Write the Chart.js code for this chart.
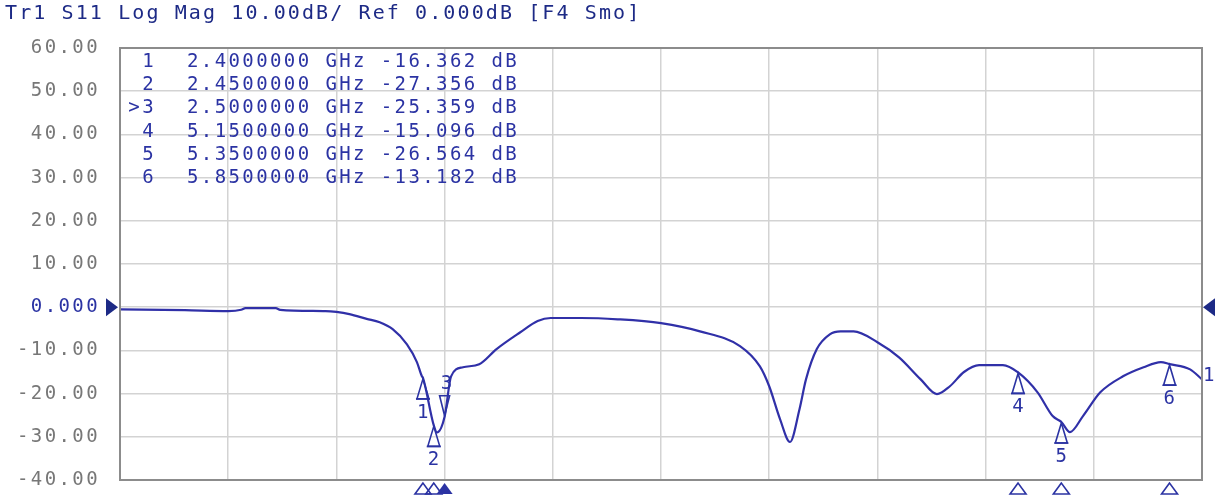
<!DOCTYPE html>
<html>
<head>
<meta charset="utf-8">
<title>Tr1 S11 Log Mag</title>
<script src="https://cdn.jsdelivr.net/npm/chart.js@4.4.1/dist/chart.umd.min.js"></script>
<style>
  html, body { margin: 0; padding: 0; background: #fff; }
  canvas { display: block; }
</style>
</head>
<body>
<canvas id="s11Chart" width="1215" height="498"></canvas>
<script>
// S11 trace, log magnitude (dB) against frequency (GHz)
const freqGHz = [1.00, 1.30, 1.50, 1.56, 1.58, 1.72, 1.74, 1.95, 2.00, 2.06, 2.14, 2.20, 2.26, 2.326, 2.372,
    2.395, 2.40, 2.45, 2.465, 2.50, 2.53, 2.585, 2.66, 2.74, 2.85, 2.93, 2.99, 3.13, 3.30, 3.50, 3.68,
    3.865, 3.957, 4.00, 4.05, 4.096, 4.14, 4.17, 4.22, 4.28, 4.33, 4.39, 4.50, 4.60, 4.70, 4.775, 4.835,
    4.90, 4.97, 5.08, 5.15, 5.24, 5.31, 5.35, 5.39, 5.45, 5.53, 5.635, 5.73, 5.81, 5.85, 5.945, 6.00];
const s11dB = [-0.5, -0.7, -0.9, -0.6, -0.2, -0.2, -0.6, -0.9, -1.1, -1.6, -2.7, -3.5, -5.1, -8.6, -12.7,
    -16.0, -16.362, -27.356, -29.0, -25.359, -16.0, -13.9, -13.2, -9.7, -5.8, -3.2, -2.5, -2.5, -2.8, -3.7, -5.6,
    -9.0, -13.7, -18.3, -25.9, -31.2, -23.6, -16.7, -9.7, -6.3, -5.6, -5.6, -8.1, -11.6, -16.7, -20.1, -18.3,
    -15.0, -13.4, -13.4, -15.096, -19.7, -25.2, -26.564, -28.9, -25.2, -19.7, -16.0, -13.9, -12.7, -13.182, -14.4, -16.7];

// marker table
const markerIds = ['1', '2', '3', '4', '5', '6'];
const markerFreq = [2.40, 2.45, 2.50, 5.15, 5.35, 5.85];
const markerDb = [-16.362, -27.356, -25.359, -15.096, -26.564, -13.182];
const activeMarker = 2;

const titleText = 'Tr1 S11 Log Mag 10.00dB/ Ref 0.000dB [F4 Smo]';
const refLevel = 0;

const BLUE = '#2b33a3';
const DARK_BLUE = '#1d2a86';
const FRAME = '#8c8c8c';
const MONO = '19px "DejaVu Sans Mono", monospace';
const SPACING = '2.4px';

function triangle(ctx, x, y, w, h, dir, filled) {
    // dir 1: tip at (x,y) with base below, -1: base above
    ctx.beginPath();
    ctx.moveTo(x, y);
    ctx.lineTo(x - w, y + dir * h);
    ctx.lineTo(x + w, y + dir * h);
    ctx.closePath();
    if (filled) ctx.fill(); else ctx.stroke();
}

const overlay = {
    id: 'vnaOverlay',
    beforeDraw(chart) {
        chart.ctx.letterSpacing = SPACING;
    },
    afterDraw(chart) {
        const { ctx, chartArea: a, scales: { x, y } } = chart;
        ctx.save();
        ctx.letterSpacing = SPACING;

        // frame
        ctx.strokeStyle = FRAME;
        ctx.lineWidth = 2;
        ctx.strokeRect(a.left, a.top, a.right - a.left, a.bottom - a.top);

        // title
        ctx.font = '20px "DejaVu Sans Mono", monospace';
        ctx.letterSpacing = '2.1px';
        ctx.fillStyle = DARK_BLUE;
        ctx.textAlign = 'left';
        ctx.textBaseline = 'middle';
        ctx.fillText(titleText, 5, 14);
        ctx.letterSpacing = SPACING;

        // marker readout table
        ctx.font = MONO;
        ctx.fillStyle = BLUE;
        markerIds.forEach((id, i) => {
            const rowY = 62 + i * 23.2;
            ctx.textAlign = 'right';
            ctx.fillText((i === activeMarker ? '>' : '') + id, 156, rowY);
            ctx.textAlign = 'left';
            ctx.fillText(markerFreq[i].toFixed(7) + ' GHz ' + markerDb[i].toFixed(3) + ' dB', 187, rowY);
        });

        // reference level arrows
        const yRef = y.getPixelForValue(refLevel);
        ctx.fillStyle = DARK_BLUE;
        ctx.beginPath();
        ctx.moveTo(a.left - 14, yRef - 9);
        ctx.lineTo(a.left - 2, yRef);
        ctx.lineTo(a.left - 14, yRef + 9);
        ctx.closePath();
        ctx.fill();
        ctx.beginPath();
        ctx.moveTo(a.right + 13, yRef - 9);
        ctx.lineTo(a.right + 1, yRef);
        ctx.lineTo(a.right + 13, yRef + 9);
        ctx.closePath();
        ctx.fill();

        // markers on the trace and along the bottom edge
        ctx.strokeStyle = BLUE;
        ctx.fillStyle = BLUE;
        ctx.lineWidth = 1.6;
        ctx.textAlign = 'center';
        ctx.font = MONO;
        markerIds.forEach((id, i) => {
            const px = x.getPixelForValue(markerFreq[i]);
            const py = y.getPixelForValue(markerDb[i]);
            if (i === activeMarker) {
                triangle(ctx, px, py - 1, 5, 20, -1, false);
                ctx.fillText(id, px + 3, py - 33);
            } else {
                triangle(ctx, px, py + 1, 6, 20, 1, false);
                ctx.beginPath();
                ctx.moveTo(px - 7, py + 21);
                ctx.lineTo(px + 7, py + 21);
                ctx.stroke();
                ctx.fillText(id, px + 1, py + 35);
            }
            triangle(ctx, px, a.bottom + 3, 8, 11, 1, i === activeMarker);
        });

        // trace number at the right edge
        const last = s11dB[s11dB.length - 1];
        ctx.textAlign = 'left';
        ctx.fillText('1', a.right + 1, y.getPixelForValue(last) - 3);

        ctx.restore();
    }
};

const points = freqGHz.map((f, i) => ({ x: f, y: s11dB[i] }));

new Chart(document.getElementById('s11Chart'), {
    type: 'line',
    data: {
        datasets: [{
            label: 'S11',
            data: points,
            borderColor: '#3030a8',
            borderWidth: 2.2,
            pointRadius: 0,
            cubicInterpolationMode: 'monotone',
            fill: false
        }]
    },
    options: {
        responsive: false,
        animation: false,
        devicePixelRatio: 1,
        layout: { padding: { top: 48, right: 13, bottom: 18, left: 0 } },
        plugins: { legend: { display: false }, tooltip: { enabled: false }, title: { display: false } },
        scales: {
            x: {
                type: 'linear',
                min: 1,
                max: 6,
                ticks: { display: false, stepSize: 0.5 },
                grid: { color: '#d3d3d3', lineWidth: 1.5, drawTicks: false },
                border: { display: false },
                afterFit: (scale) => { scale.height = 0; }
            },
            y: {
                min: -40,
                max: 60,
                ticks: {
                    stepSize: 10,
                    padding: 20,
                    font: { family: '"DejaVu Sans Mono", monospace', size: 19 },
                    color: (c) => c.tick.value === refLevel ? BLUE : '#777777',
                    callback: (v) => v === refLevel ? '0.000' : v.toFixed(2)
                },
                grid: { color: '#d3d3d3', lineWidth: 1.5, drawTicks: false },
                border: { display: false },
                afterFit: (scale) => {
                    scale.width = 120;
                    // labels may overhang the plot edges; keep the plot box fixed
                    scale.paddingTop = 0;
                    scale.paddingBottom = 0;
                }
            }
        }
    },
    plugins: [overlay]
});
</script>
</body>
</html>
